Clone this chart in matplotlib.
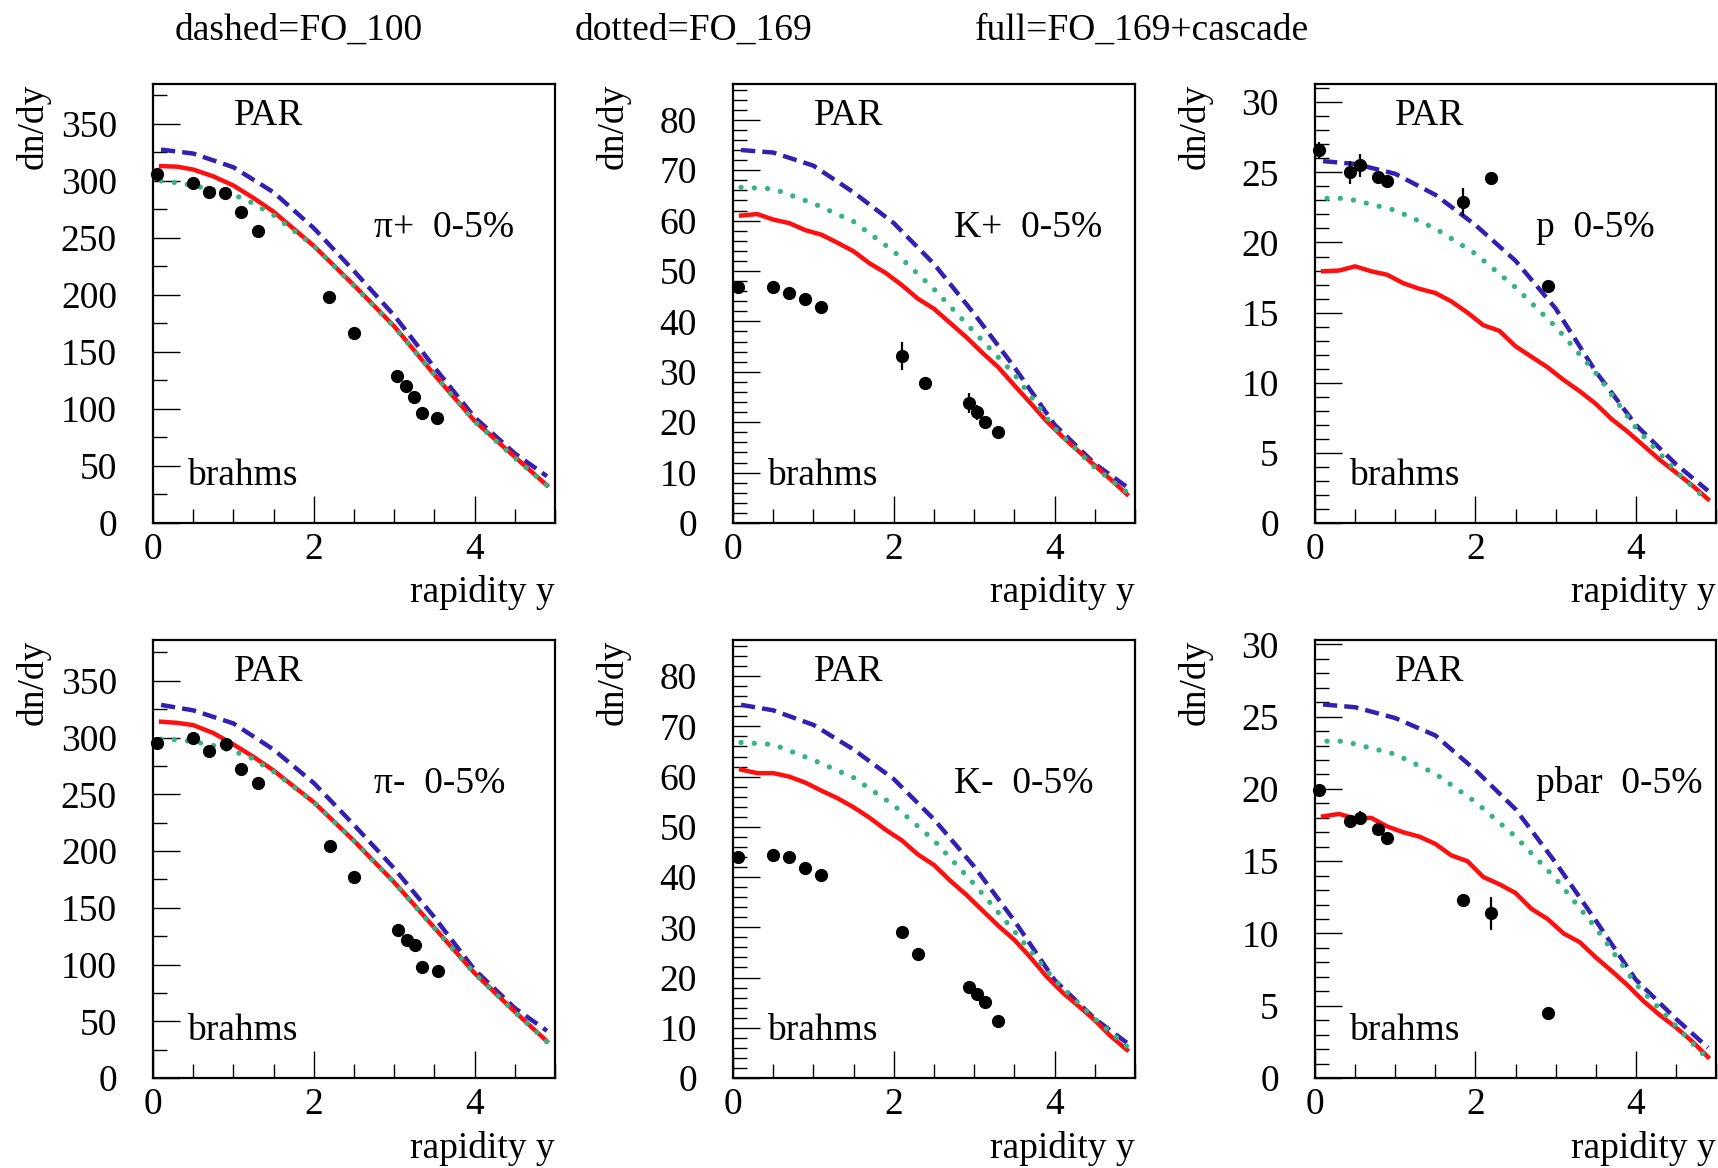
import matplotlib
matplotlib.use("Agg")
import matplotlib.pyplot as plt
from matplotlib.ticker import MultipleLocator

plt.rcParams['font.family'] = ['Liberation Serif', 'DejaVu Serif']

# smooth curves (FO_100 dashed, FO_169 dotted) sampled on this grid
y_smooth = [0.1, 0.5, 1.0, 1.5, 2.0, 2.5, 3.0, 3.5, 4.0, 4.5, 4.9]
# cascade curves (full) sampled on this grid
y_casc = [0.1, 0.3, 0.5, 0.7, 0.9, 1.1, 1.3, 1.5, 1.7, 1.9, 2.1, 2.3, 2.5,
          2.7, 2.9, 3.1, 3.3, 3.5, 3.7, 3.9, 4.1, 4.3, 4.5, 4.7, 4.9]

# ---- pi+ ----
pip_dashed = [327.5, 324, 312, 290, 258.6, 221, 182, 136.5, 92.7, 61, 41]
pip_dotted_x = [0.1, 0.35, 0.7, 1.0, 1.2, 1.5, 2.0, 2.5, 3.0, 3.5, 4.0, 4.5, 4.9]
pip_dotted = [300, 298, 293, 288, 282, 270, 243, 208, 172, 130, 89, 57, 33]
pip_full_x = [0.1, 0.3, 0.5, 0.75, 1.0, 1.25, 1.5, 2.0, 2.5, 3.0, 3.5, 4.0, 4.5, 4.9]
pip_full = [313, 312.5, 310, 304, 296, 285, 273, 243, 208.5, 172.5, 130, 89.5, 58, 33]
pip_data_y = [0.055, 0.5, 0.7, 0.9, 1.1, 1.3, 2.19, 2.5, 3.04, 3.15, 3.25, 3.35, 3.53]
pip_data = [306, 298, 290.5, 289, 272.7, 256.4, 198.5, 167, 129, 120, 110.5, 96.4, 92]
pip_err = [0, 0, 0, 0, 0, 0, 0, 0, 0, 0, 0, 0, 0]

# ---- pi- ----
pim_dashed = [328.8, 324, 312.5, 289.4, 260, 223, 184.7, 141.6, 95.4, 61.6, 41.6]
pim_dotted_x = [0.1, 0.35, 0.7, 1.0, 1.2, 1.5, 2.0, 2.5, 3.0, 3.5, 4.0, 4.5, 4.9]
pim_dotted = [298.6, 298, 294, 288, 283, 270, 243, 209, 172, 132, 92, 58, 32]
pim_full_x = [0.1, 0.3, 0.5, 0.75, 1.0, 1.25, 1.5, 2.0, 2.5, 3.0, 3.5, 4.0, 4.5, 4.9]
pim_full = [314, 313, 311, 304, 294, 283, 271, 243, 209, 172.4, 132.4, 92.4, 58.5, 32.3]
pim_data_y = [0.055, 0.5, 0.7, 0.91, 1.1, 1.31, 2.2, 2.5, 3.05, 3.16, 3.26, 3.35, 3.54]
pim_data = [295.6, 300, 288, 294, 272.5, 260, 204.7, 177, 130.8, 122, 117, 97.6, 94.5]
pim_err = [0, 0, 0, 0, 0, 0, 0, 0, 0, 0, 0, 0, 0]

# ---- K+ ----
kp_dashed = [74, 73.5, 70.9, 65.6, 59.5, 51.4, 41.5, 30.9, 19.5, 11.75, 7.15]
kp_dotted = [66.6, 66.3, 63.4, 59.8, 53.9, 46.4, 37.9, 29.5, 18.8, 11.0, 6.1]
kp_full = [61, 61.3, 60.2, 59.5, 58.1, 57.2, 55.6, 53.9, 51.5, 49.6, 47.2, 44.5,
           42.5, 39.7, 36.9, 33.8, 30.9, 27.3, 23.8, 20.2, 17.1, 14.2, 11.4, 8.6, 5.7]
kp_data_y = [0.06, 0.5, 0.7, 0.9, 1.1, 2.1, 2.39, 2.94, 3.04, 3.14, 3.3]
kp_data = [46.8, 46.8, 45.7, 44.5, 42.8, 33.1, 27.7, 23.8, 22.0, 20.1, 18.1]
kp_err = [0, 0, 0, 0, 0, 2.8, 0, 2.0, 1.5, 0, 0]

# ---- K- ----
km_dashed = [74.3, 73.2, 70.3, 65.4, 59.5, 51.5, 42.1, 31.3, 19.5, 11.8, 7.0]
km_dotted = [66.8, 66.4, 63.3, 59.8, 54.3, 47.3, 38.6, 29.2, 19.5, 11.8, 6.3]
km_full = [61.4, 60.7, 60.7, 60.0, 58.8, 57.2, 55.7, 53.9, 51.8, 49.4, 47.3, 44.5,
           42.4, 39.3, 36.5, 33.4, 30.3, 27.5, 24.0, 20.2, 17.0, 14.3, 11.5, 8.3, 5.6]
km_data_y = [0.06, 0.5, 0.7, 0.9, 1.1, 2.1, 2.3, 2.94, 3.04, 3.14, 3.3]
km_data = [44.0, 44.3, 44.0, 41.9, 40.5, 29.0, 24.6, 18.2, 16.8, 15.2, 11.3]
km_err = [0, 0, 0, 0, 0, 0, 0, 0, 0, 0, 0]

# ---- p ----
p_dashed = [25.8, 25.6, 24.9, 23.4, 21.25, 18.7, 15.3, 10.8, 7.0, 4.2, 2.3]
p_dotted_x = [0.15, 0.35, 0.5, 1.0, 1.5, 2.0, 2.5, 3.0, 3.5, 4.0, 4.5, 4.9]
p_dotted = [23.15, 23.15, 23.0, 22.3, 21.0, 19.2, 16.8, 14.0, 10.7, 6.8, 3.7, 1.55]
p_full = [17.95, 18.0, 18.3, 17.95, 17.7, 17.1, 16.7, 16.4, 15.8, 15.0, 14.1, 13.7,
          12.6, 11.85, 11.1, 10.2, 9.4, 8.5, 7.4, 6.5, 5.5, 4.5, 3.6, 2.7, 1.7]
p_data_y = [0.05, 0.44, 0.56, 0.79, 0.9, 1.85, 2.2, 2.9]
p_data = [26.6, 25.0, 25.5, 24.7, 24.35, 22.9, 24.6, 16.9]
p_err = [0.6, 0.8, 0.8, 0, 0, 1.0, 0, 0]

# ---- pbar ----
pb_dashed = [25.84, 25.65, 24.9, 23.7, 21.3, 18.6, 14.9, 10.9, 6.8, 4.1, 2.1]
pb_dotted_x = [0.15, 0.35, 0.5, 1.0, 1.5, 2.0, 2.5, 3.0, 3.5, 4.0, 4.5, 4.9]
pb_dotted = [23.3, 23.3, 23.1, 22.4, 21.05, 19.1, 16.7, 13.8, 10.4, 6.5, 3.6, 1.3]
pb_full = [18.1, 18.27, 17.95, 18.0, 17.4, 17.0, 16.7, 16.2, 15.4, 15.0, 13.9, 13.4,
           12.8, 11.7, 11.0, 10.0, 9.4, 8.35, 7.4, 6.4, 5.3, 4.35, 3.5, 2.55, 1.45]
pb_data_y = [0.05, 0.44, 0.56, 0.79, 0.9, 1.85, 2.2, 2.9]
pb_data = [19.9, 17.8, 18.0, 17.2, 16.6, 12.3, 11.4, 4.5]
pb_err = [0, 0.4, 0.5, 0, 0, 0.4, 1.15, 0]

BLUE = '#3320b0'
GREEN = '#35b383'
RED = '#ff1010'
FS = 27

fig = plt.figure(figsize=(17.18, 11.68), dpi=100)

# axes boxes in pixels (left, right, top, bottom)
boxes = [
    (153, 555, 84, 523), (733, 1135, 84, 523), (1315, 1716, 84, 523),
    (153, 555, 640, 1078), (733, 1135, 640, 1078), (1315, 1716, 640, 1078),
]

panels = [
    dict(dash=(y_smooth, pip_dashed), dot=(pip_dotted_x, pip_dotted),
         full=(pip_full_x, pip_full), data=(pip_data_y, pip_data, pip_err),
         label=u"π+  0-5%", ymax=385, major=50, minor=25),
    dict(dash=(y_smooth, kp_dashed), dot=(y_smooth, kp_dotted),
         full=(y_casc, kp_full), data=(kp_data_y, kp_data, kp_err),
         label="K+  0-5%", ymax=87.1, major=10, minor=2),
    dict(dash=(y_smooth, p_dashed), dot=(p_dotted_x, p_dotted),
         full=(y_casc, p_full), data=(p_data_y, p_data, p_err),
         label="p  0-5%", ymax=31.3, major=5, minor=1),
    dict(dash=(y_smooth, pim_dashed), dot=(pim_dotted_x, pim_dotted),
         full=(pim_full_x, pim_full), data=(pim_data_y, pim_data, pim_err),
         label=u"π-  0-5%", ymax=386, major=50, minor=25),
    dict(dash=(y_smooth, km_dashed), dot=(y_smooth, km_dotted),
         full=(y_casc, km_full), data=(km_data_y, km_data, km_err),
         label="K-  0-5%", ymax=87.2, major=10, minor=2),
    dict(dash=(y_smooth, pb_dashed), dot=(pb_dotted_x, pb_dotted),
         full=(y_casc, pb_full), data=(pb_data_y, pb_data, pb_err),
         label="pbar  0-5%", ymax=30.3, major=5, minor=1),
]

W, H = 1718.0, 1168.0
for box, pc in zip(boxes, panels):
    l, r, t, b = box
    ax = fig.add_axes([l / W, 1 - b / H, (r - l) / W, (b - t) / H])
    ax.plot(pc['full'][0], pc['full'][1], color=RED, lw=3.2, zorder=3)
    ax.plot(pc['dot'][0], pc['dot'][1], color=GREEN, lw=3.8,
            ls=(0, (0.01, 2.5)), dash_capstyle='round', zorder=4)
    ax.plot(pc['dash'][0], pc['dash'][1], color=BLUE, lw=3.2,
            ls=(0, (3.2, 1.6)), zorder=2)
    xs, ys, es = pc['data']
    ax.errorbar(xs, ys, yerr=es, fmt='o', color='black', ms=8.5,
                elinewidth=1.6, capsize=0, zorder=5, clip_on=False)

    ax.set_xlim(0, 5.0)
    ax.set_ylim(0, pc['ymax'])
    ax.xaxis.set_major_locator(MultipleLocator(2))
    ax.xaxis.set_minor_locator(MultipleLocator(0.5))
    ax.yaxis.set_major_locator(MultipleLocator(pc['major']))
    ax.yaxis.set_minor_locator(MultipleLocator(pc['minor']))
    ax.tick_params(which='both', direction='in', top=False, right=False,
                   labelsize=FS, width=1.0)
    ax.tick_params(which='major', length=19.5)
    ax.tick_params(which='minor', length=9.8)
    ax.tick_params(axis='y', which='major', pad=26)
    ax.tick_params(axis='x', which='major', pad=6.5)
    for sp in ax.spines.values():
        sp.set_linewidth(1.6)

    ax.text(0.2, 0.928, "PAR", transform=ax.transAxes, fontsize=FS,
            ha='left', va='center')
    ax.text(0.085, 0.107, "brahms", transform=ax.transAxes, fontsize=FS,
            ha='left', va='center')
    ax.text(0.55, 0.672, pc['label'], transform=ax.transAxes, fontsize=FS,
            ha='left', va='center')
    ax.annotate("dn/dy", xy=(0, 1), xycoords='axes fraction',
                xytext=(-120, 0), textcoords='offset pixels', rotation=90,
                ha='center', va='top', fontsize=FS)
    ax.annotate("rapidity y", xy=(1, 0), xycoords='axes fraction',
                xytext=(0, -70), textcoords='offset pixels',
                ha='right', va='center', fontsize=FS)

fig.text(175 / W, 1 - 40 / H, "dashed=FO_100", fontsize=FS, ha='left', va='baseline')
fig.text(575 / W, 1 - 40 / H, "dotted=FO_169", fontsize=FS, ha='left', va='baseline')
fig.text(975 / W, 1 - 40 / H, "full=FO_169+cascade", fontsize=FS, ha='left', va='baseline')

fig.savefig("out.png", dpi=100)
